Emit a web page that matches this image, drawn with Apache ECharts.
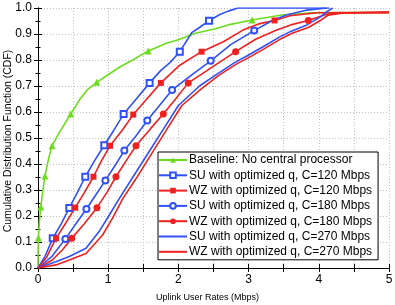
<!DOCTYPE html>
<html><head><meta charset="utf-8">
<script src="https://cdn.jsdelivr.net/npm/echarts@6/dist/echarts.min.js"></script>
<style>html,body{margin:0;padding:0;background:#fff}#c{width:395px;height:305px}</style>
</head><body><div id="c"></div>
<script>
// ---- data ----
const seriesNames = ['Baseline: No central processor','SU with optimized q, C=120 Mbps','WZ with optimized q, C=120 Mbps','SU with optimized q, C=180 Mbps','WZ with optimized q, C=180 Mbps','SU with optimized q, C=270 Mbps','WZ with optimized q, C=270 Mbps'];
const xTicks = [0,1,2,3,4,5];
const yTicks = [0.0,0.1,0.2,0.3,0.4,0.5,0.6,0.7,0.8,0.9,1.0];

const baseX = [0,0.002,0.005,0.02,0.04,0.07,0.1,0.15,0.2,0.3,0.466,0.6,0.7,0.836,1.03,1.17,1.35,1.57,1.83,2.02,2.24,2.5,2.71,3.05,3.47,3.9,5];
const baseY = [0,0.06,0.115,0.18,0.235,0.3,0.354,0.42,0.47,0.52,0.592,0.65,0.685,0.714,0.749,0.774,0.8,0.835,0.864,0.88,0.903,0.918,0.935,0.954,0.973,0.982,0.983];
const baseMarks = [2,4,6,8,10,13,17,23];

const su120X = [0,0.1,0.21,0.33,0.446,0.56,0.674,0.8,0.944,1.08,1.22,1.4,1.59,1.75,1.88,2.02,2.19,2.3,2.436,2.59,2.71,2.85,4.15];
const su120Y = [0,0.045,0.114,0.17,0.231,0.29,0.351,0.41,0.472,0.53,0.592,0.65,0.712,0.76,0.79,0.832,0.905,0.925,0.951,0.975,0.988,1.0,1.0];
const su120Marks = [2,4,6,8,10,12,15,18];

const wz120X = [0,0.12,0.256,0.4,0.53,0.66,0.79,0.9,1.026,1.2,1.357,1.55,1.75,2.02,2.33,2.64,2.92,3.16,3.37,3.59,3.97,5];
const wz120Y = [0,0.04,0.114,0.175,0.232,0.29,0.351,0.41,0.47,0.53,0.59,0.65,0.712,0.78,0.832,0.87,0.915,0.94,0.952,0.97,0.982,0.983];
const wz120Marks = [2,4,6,8,10,12,14,18];

const su180X = [0,0.2,0.39,0.54,0.69,0.82,0.96,1.1,1.23,1.4,1.557,1.73,1.91,2.2,2.46,2.75,3.08,3.35,3.54,3.83,4.11];
const su180Y = [0,0.045,0.112,0.17,0.227,0.28,0.337,0.395,0.452,0.51,0.567,0.625,0.685,0.745,0.797,0.86,0.913,0.954,0.973,0.992,1.0];
const su180Marks = [2,4,6,8,10,12,14,16];

const wz180X = [0,0.2,0.35,0.48,0.66,0.84,0.98,1.11,1.25,1.396,1.6,1.785,1.96,2.14,2.31,2.55,2.815,3.1,3.4,3.6,3.85,4.1,4.3,5];
const wz180Y = [0,0.03,0.07,0.114,0.17,0.232,0.29,0.351,0.41,0.47,0.535,0.592,0.65,0.712,0.742,0.785,0.832,0.88,0.915,0.935,0.952,0.975,0.981,0.983];
const wz180Marks = [3,5,7,9,11,13,16,20];

const su270X = [0,0.256,0.446,0.684,0.87,1.016,1.16,1.4,1.6,1.8,2.0,2.3,2.545,2.8,3.02,3.2,3.45,3.6,3.83,4.02,4.11,4.2];
const su270Y = [0,0.024,0.044,0.076,0.14,0.204,0.268,0.37,0.455,0.54,0.625,0.7,0.745,0.79,0.822,0.85,0.89,0.91,0.935,0.965,0.985,1.0];

const wz270X = [0,0.256,0.446,0.684,0.92,1.06,1.21,1.4,1.63,1.85,2.05,2.33,2.57,2.83,3.04,3.22,3.47,3.62,3.85,4.04,4.13,4.35,5];
const wz270Y = [0,0.012,0.031,0.056,0.127,0.191,0.268,0.345,0.445,0.54,0.625,0.69,0.74,0.785,0.815,0.843,0.883,0.903,0.925,0.955,0.972,0.981,0.983];

// ---- build ----
const BLUE = '#3050f8', RED = '#f02020', GREEN = '#6edc1e';
function mk(xs, ys, marks) {
  return xs.map((x, i) => (marks.indexOf(i) >= 0) ? {value:[x, ys[i]]} : {value:[x, ys[i]], symbol:'none'});
}
function line(name, xs, ys, marks, color, symbol, size) {
  return {
    name, type:'line', data: mk(xs, ys, marks), symbol: symbol, symbolSize: size, showSymbol: true,
    showAllSymbol: true, color: color,
    lineStyle:{color: color, width:1.6}, itemStyle:{color: color, borderWidth:1},
    animation:false, z: 3, clip: true
  };
}
const series = [
  line(seriesNames[0], baseX, baseY, baseMarks, GREEN, 'triangle', 7),
  line(seriesNames[1], su120X, su120Y, su120Marks, BLUE, 'emptyRect', 6),
  line(seriesNames[2], wz120X, wz120Y, wz120Marks, RED, 'rect', 6),
  line(seriesNames[3], su180X, su180Y, su180Marks, BLUE, 'emptyCircle', 6),
  line(seriesNames[4], wz180X, wz180Y, wz180Marks, RED, 'circle', 7),
  line(seriesNames[5], su270X, su270Y, [], BLUE, 'none', 0),
  line(seriesNames[6], wz270X, wz270Y, [], RED, 'none', 0)
];
const legendData = seriesNames.map((n, i) => i >= 5 ? {name:n, itemStyle:{opacity:0}} : {name:n});

const FONT = 'Liberation Sans, Arial, sans-serif';
const axisLine = {show:true, lineStyle:{color:'#000', width:1}};
const chart = echarts.init(document.getElementById('c'), null, {renderer:'canvas'});
chart.setOption({
  animation:false,
  backgroundColor:'#fff',
  textStyle:{fontFamily:FONT},
  grid:{left:38, right:6, top:8, bottom:37, containLabel:false, outerBoundsMode:'none'},
  legend:{
    orient:'vertical', left:158, top:152, data: legendData,
    itemWidth:28, itemHeight:7, itemGap:3.3,
    padding:[2,6,2,0],
    borderColor:'#000', borderWidth:1, borderRadius:0, backgroundColor:'#fff',
    textStyle:{fontFamily:FONT, fontSize:12, lineHeight:12, color:'#000', padding:[0,0,0,-3]}
  },
  xAxis:[
    {type:'value', min:xTicks[0], max:xTicks[xTicks.length-1], interval:0.5, position:'bottom',
     axisLine:axisLine, axisTick:{show:true, inside:true, length:4, lineStyle:{color:'#000'}},
     axisLabel:{fontFamily:FONT, fontSize:12, color:'#000', margin:6,
       formatter: v => (xTicks.indexOf(v) >= 0 ? String(v) : '')},
     splitLine:{show:true, lineStyle:{color:'#c0c0c0', type:[1,2], width:1}},
     name:'Uplink User Rates (Mbps)', nameLocation:'middle', nameGap:25, nameMoveOverlap:false,
     nameTextStyle:{fontFamily:FONT, fontSize:9, color:'#000', padding:[0,12,0,0]}},
    {type:'value', min:0, max:5, interval:0.5, position:'top',
     axisLine:axisLine, axisTick:{show:true, inside:true, length:4, lineStyle:{color:'#000'}},
     axisLabel:{show:false}, splitLine:{show:false}}
  ],
  yAxis:[
    {type:'value', min:yTicks[0], max:yTicks[yTicks.length-1], interval:0.1, position:'left',
     axisLine:axisLine, axisTick:{show:true, inside:true, length:4, lineStyle:{color:'#000'}},
     minorTick:{show:true, splitNumber:2, length:2.5, lineStyle:{color:'#000'}},
     axisLabel:{fontFamily:FONT, fontSize:12, color:'#000', margin:6, formatter: v => v.toFixed(1)},
     splitLine:{show:true, lineStyle:{color:'#c0c0c0', type:[1,2], width:1}},
     name:'Cumulative Distribution Function (CDF)', nameLocation:'middle', nameGap:24, nameMoveOverlap:false,
     nameTextStyle:{fontFamily:FONT, fontSize:10.5, color:'#000', padding:[0,6,0,0]}},
    {type:'value', min:0, max:1, interval:0.1, position:'right',
     axisLine:axisLine, axisTick:{show:true, inside:true, length:4, lineStyle:{color:'#000'}},
     minorTick:{show:true, splitNumber:2, length:2.5, lineStyle:{color:'#000'}},
     axisLabel:{show:false}, splitLine:{show:false}}
  ],
  series: series
});
</script></body></html>
